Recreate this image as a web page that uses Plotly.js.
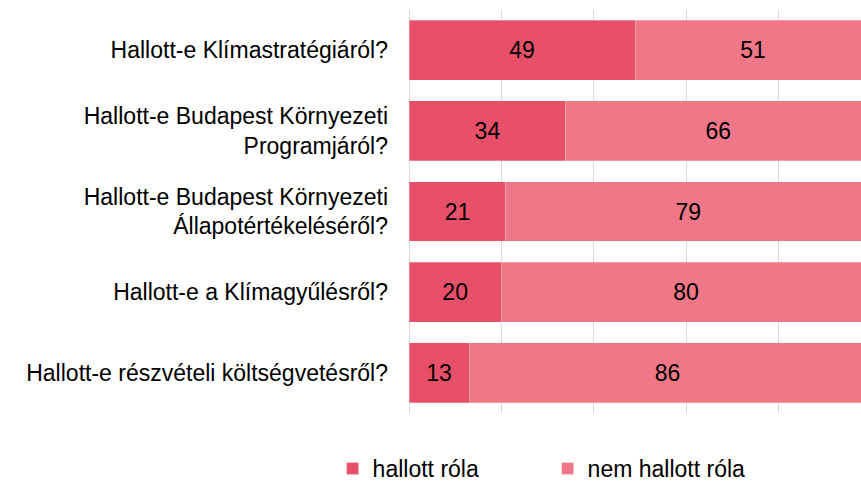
<!DOCTYPE html>
<html>
<head>
<meta charset="utf-8">
<script src="https://cdn.plot.ly/plotly-3.0.1.min.js"></script>
<style>html,body{margin:0;padding:0;background:#fff;}</style>
</head>
<body>
<div id="chart" style="width:861px;height:490px;"></div>
<script>
const categories = [
  "Hallott-e Klímastratégiáról?",
  "Hallott-e Budapest Környezeti<br>Programjáról?",
  "Hallott-e Budapest Környezeti<br>Állapotértékeléséről?",
  "Hallott-e a Klímagyűlésről?",
  "Hallott-e részvételi költségvetésről?"
];
const heardValues = [49, 34, 21, 20, 13];
const notHeardValues = [51, 66, 79, 80, 86];
const seriesNames = ["hallott róla", "nem hallott róla"];

const FONT = "Liberation Sans, Arial, sans-serif";
const FS = 23;

const traces = [
  {
    type: "bar", orientation: "h", name: seriesNames[0],
    y: categories, x: heardValues,
    text: heardValues.map(String), textposition: "inside", insidetextanchor: "middle",
    textangle: 0, constraintext: "none",
    insidetextfont: {family: FONT, size: FS, color: "#000"},
    marker: {color: "#E8506A", line: {color: "rgba(255,255,255,0.45)", width: 0.6}},
    hoverinfo: "none"
  },
  {
    type: "bar", orientation: "h", name: seriesNames[1],
    y: categories, x: notHeardValues,
    text: notHeardValues.map(String), textposition: "inside", insidetextanchor: "middle",
    textangle: 0, constraintext: "none",
    insidetextfont: {family: FONT, size: FS, color: "#000"},
    marker: {color: "#F07787", line: {color: "rgba(255,255,255,0.45)", width: 0.6}},
    hoverinfo: "none"
  }
];

const layout = {
  width: 861, height: 490,
  margin: {l: 409, r: 0, t: 10, b: 77, pad: 0},
  paper_bgcolor: "#fff", plot_bgcolor: "#fff",
  font: {family: FONT, size: FS, color: "#000"},
  barmode: "stack",
  bargap: 0.256,
  showlegend: true,
  legend: {
    orientation: "h", xref: "paper", x: -0.169, xanchor: "left",
    yref: "container", y: 0.0, yanchor: "bottom",
    font: {family: FONT, size: FS, color: "#000"},
    entrywidth: 170, traceorder: "normal"
  },
  xaxis: {
    range: [0, 97.9], dtick: 20, tick0: 0,
    showticklabels: false, ticks: "",
    showgrid: true, gridcolor: "#d9d9d9", gridwidth: 1,
    zeroline: true, zerolinecolor: "#d9d9d9", zerolinewidth: 1,
    showline: false, fixedrange: true
  },
  yaxis: {
    type: "category", autorange: "reversed",
    ticks: "", ticklabelstandoff: 20,
    showgrid: false, zeroline: false, showline: false,
    tickfont: {family: FONT, size: FS, color: "#000"},
    fixedrange: true
  }
};

Plotly.newPlot("chart", traces, layout, {displayModeBar: false, staticPlot: true});
</script>
</body>
</html>
